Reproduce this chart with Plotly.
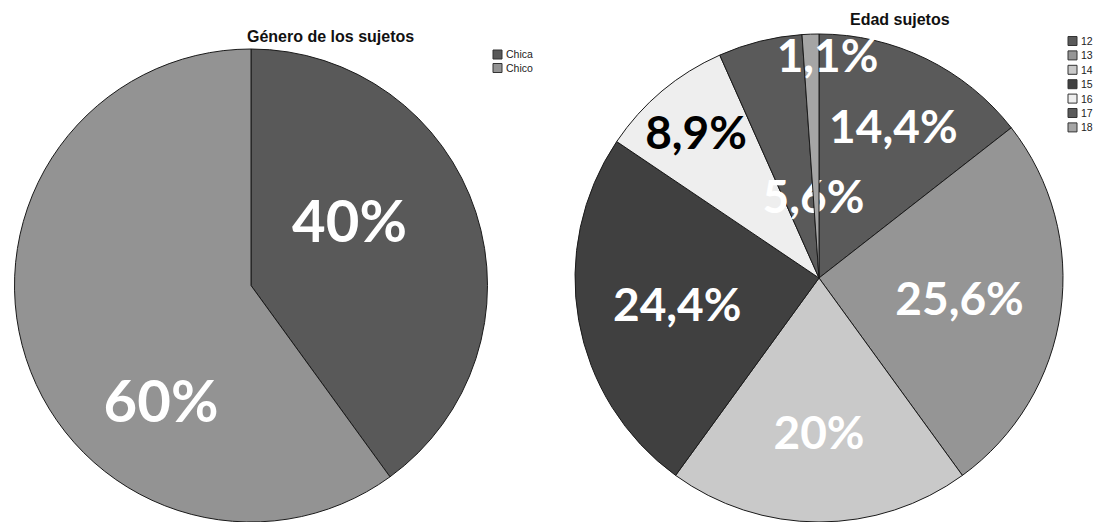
import plotly.graph_objects as go

# ---- data ----
gender_labels = ["Chica", "Chico"]
gender_counts = [36, 54]
gender_colors = ["#595959", "#939393"]

age_labels = ["12", "13", "14", "15", "16", "17", "18"]
age_counts = [13, 23, 18, 22, 8, 5, 1]
age_colors = ["#5a5a5a", "#959595", "#c9c9c9", "#404040", "#eeeeee", "#5a5a5a", "#a5a5a5"]
age_text_colors = ["white", "white", "white", "white", "black", "white", "white"]

title_left = "Género de los sujetos"
title_right = "Edad sujetos"

W, H = 1097, 522
NB = "\u00a0"


def pct_labels(vals):
    tot = sum(vals)
    out = []
    for v in vals:
        s = f"{100 * v / tot:.1f}"
        if s.endswith(".0"):
            s = s[:-2]
        out.append(s.replace(".", ",") + "%")
    return out


def shifted(tmpl, lines_before=0, lines_after=0, pad_left=0, pad_right=0, small_before=False):
    """Label template nudged off its default anchor with invisible padding."""
    pre = (NB + "<br>") * lines_before
    if small_before:
        pre += '<span style="font-size:10px">' + NB + "</span><br>"
    return pre + NB * pad_left + tmpl + NB * pad_right + ("<br>" + NB) * lines_after


def px_x(x):
    return x / W


def px_y(y):
    return 1 - y / H


fig = go.Figure()

big = '<span style="font-size:58px">%{text}</span>'
left_templates = [shifted(big, lines_after=1, pad_right=3), shifted(big, lines_before=4, pad_right=1)]

rl = 236.5
fig.add_trace(go.Pie(
    labels=gender_labels, values=gender_counts, sort=False,
    direction="clockwise", rotation=0,
    marker=dict(colors=gender_colors, line=dict(color="#1a1a1a", width=1)),
    text=pct_labels(gender_counts),
    texttemplate=left_templates,
    textposition="inside", insidetextorientation="horizontal",
    insidetextfont=dict(family="Lato", size=46, color="white", weight="bold"),
    hoverinfo="label+percent",
    domain=dict(x=[px_x(251 - rl), px_x(251 + rl)], y=[0, px_y(H - 2 * rl)]),
    showlegend=False,
))

right_templates = ["%{text}"] * len(age_labels)
right_templates[5] = shifted("%{text}", lines_before=4, pad_left=8)
right_templates[6] = shifted("%{text}", small_before=True, pad_left=3)

rr = 244
fig.add_trace(go.Pie(
    labels=age_labels, values=age_counts, sort=False,
    direction="clockwise", rotation=0,
    marker=dict(colors=age_colors, line=dict(color="#1a1a1a", width=1)),
    text=pct_labels(age_counts),
    texttemplate=right_templates,
    textposition="inside", insidetextorientation="horizontal",
    insidetextfont=dict(family="Lato", size=46, color=age_text_colors, weight="bold"),
    hoverinfo="label+percent",
    domain=dict(x=[px_x(819 - rr), px_x(819 + rr)], y=[0, px_y(H - 2 * rr)]),
    showlegend=False,
))

shapes = []
annotations = []

annotations.append(dict(text=title_left, x=px_x(330), y=px_y(36), xref="paper", yref="paper",
                        showarrow=False, xanchor="center", yanchor="middle",
                        font=dict(family="Liberation Sans, Arial", size=16, color="#111", weight="bold")))
annotations.append(dict(text=title_right, x=px_x(900), y=px_y(20), xref="paper", yref="paper",
                        showarrow=False, xanchor="center", yanchor="middle",
                        font=dict(family="Liberation Sans, Arial", size=16, color="#111", weight="bold")))


def add_legend(labels, colors, x0, y0, step):
    for i, (lab, col) in enumerate(zip(labels, colors)):
        yc = y0 + i * step
        shapes.append(dict(type="rect", xref="paper", yref="paper",
                           x0=px_x(x0), x1=px_x(x0 + 9), y0=px_y(yc - 4.5), y1=px_y(yc + 4.5),
                           fillcolor=col, line=dict(color="#333", width=1)))
        annotations.append(dict(text=lab, x=px_x(x0 + 11), y=px_y(yc), xref="paper", yref="paper",
                                showarrow=False, xanchor="left", yanchor="middle",
                                font=dict(family="Liberation Sans, Arial", size=10.5, color="#222")))


add_legend(gender_labels, gender_colors, 493, 54.5, 13.5)
add_legend(age_labels, age_colors, 1068, 41, 14.4)

fig.update_layout(
    width=W, height=H, margin=dict(l=0, r=0, t=0, b=0),
    paper_bgcolor="white", plot_bgcolor="white",
    showlegend=False,
    uniformtext=dict(minsize=46, mode="show"),
    shapes=shapes, annotations=annotations,
)

fig.write_html("out.html")
